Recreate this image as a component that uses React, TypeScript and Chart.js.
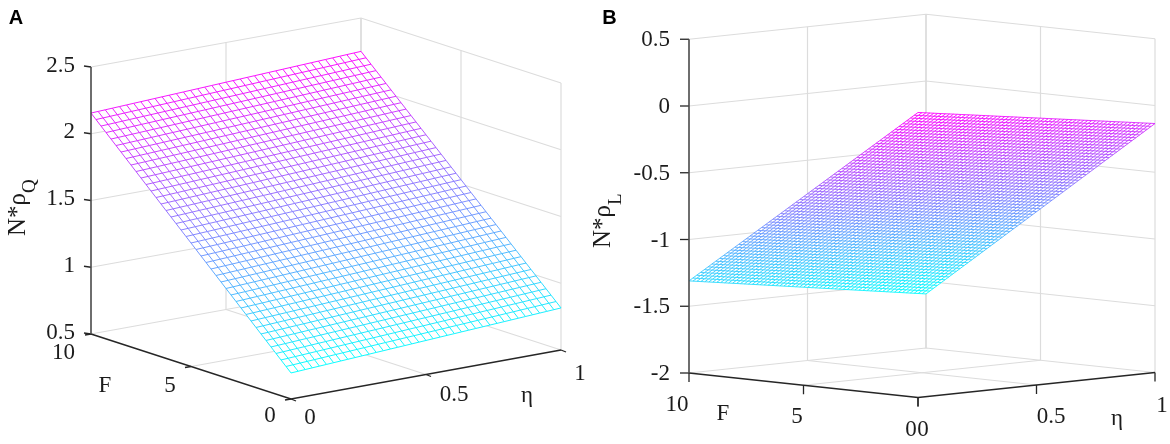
import React, { useEffect, useRef } from "react";
import { Chart, registerables } from "chart.js";

Chart.register(...registerables);

const etaTicks = [0, 0.5, 1];
const fTicks = [0, 5, 10];
const zTicksA = [0.5, 1, 1.5, 2, 2.5];
const zTicksB = [-2, -1.5, -1, -0.5, 0, 0.5];
const zLabelsA = ["0.5", "1", "1.5", "2", "2.5"];
const zLabelsB = ["-2", "-1.5", "-1", "-0.5", "0", "0.5"];

// surface heights read at the corners [eta=0, eta=1]
const surfaceA_F10 = [2.155, 2.25];
const surfaceA_F0 = [0.695, 0.815];
const surfaceB_F10 = [-1.31, -1.595];
const surfaceB_F0 = [0.135, -0.135];

const meshA = { eta: 38, f: 40 };
const meshB = { eta: 60, f: 60 };

type Panel = {
  x0: number; y0: number; ex: number; ey: number; fx: number; fy: number; zs: number;
  zMin: number; zMax: number;
  zTicks: number[];
  f10: number[]; f0: number[];
  mesh: { eta: number; f: number };
  tickZ: number[]; tickF: number[]; tickE: number[];
  meshWidth: number;
};

const panelA: Panel = {
  x0: 91, y0: 334, ex: 270, ey: -49, fx: 200, fy: 65, zs: 133.5,
  zMin: 0.5, zMax: 2.5, zTicks: zTicksA, f10: surfaceA_F10, f0: surfaceA_F0, mesh: meshA,
  tickZ: [-7, -1], tickF: [-6, 1], tickE: [5, 2], meshWidth: 0.95,
};
const panelB: Panel = {
  x0: 689, y0: 373, ex: 237, ey: -25, fx: 229, fy: 24.5, zs: 133.5,
  zMin: -2, zMax: 0.5, zTicks: zTicksB, f10: surfaceB_F10, f0: surfaceB_F0, mesh: meshB,
  tickZ: [-9, 0], tickF: [0, 9], tickE: [0, 9], meshWidth: 0.9,
};

const proj = (p: Panel, eta: number, F: number, z: number) => ({
  x: p.x0 + eta * p.ex + ((10 - F) / 10) * p.fx,
  y: p.y0 + eta * p.ey + ((10 - F) / 10) * p.fy - (z - p.zMin) * p.zs,
});

const surfZ = (p: Panel, eta: number, F: number) => {
  const a = p.f10[0] + (p.f10[1] - p.f10[0]) * eta;
  const b = p.f0[0] + (p.f0[1] - p.f0[0]) * eta;
  return b + (a - b) * (F / 10);
};

const GRID = "#dcdcdc";
const AXIS = "#262626";

const line = (pts: { x: number; y: number }[], color: string, width: number, order: number) => ({
  data: pts,
  borderColor: color,
  borderWidth: width,
  pointRadius: 0,
  showLine: true,
  fill: false,
  order,
});

function panelDatasets(p: Panel) {
  const out: any[] = [];
  const zL = p.zMin;
  const zH = p.zMax;
  // back walls and floor grid
  p.zTicks.forEach((z) => {
    out.push(line([proj(p, 0, 10, z), proj(p, 1, 10, z), proj(p, 1, 0, z)], GRID, 1.2, 5));
  });
  out.push(line([proj(p, 0.5, 10, zL), proj(p, 0.5, 10, zH)], GRID, 1.2, 5));
  out.push(line([proj(p, 1, 10, zL), proj(p, 1, 10, zH)], "#cfcfcf", 1.3, 5));
  out.push(line([proj(p, 1, 5, zL), proj(p, 1, 5, zH)], GRID, 1.2, 5));
  out.push(line([proj(p, 1, 0, zL), proj(p, 1, 0, zH)], GRID, 1.2, 5));
  out.push(line([proj(p, 0.5, 10, zL), proj(p, 0.5, 0, zL)], GRID, 1.2, 5));
  out.push(line([proj(p, 0, 5, zL), proj(p, 1, 5, zL)], GRID, 1.2, 5));

  // white face hiding what lies behind the mesh
  const corner = (e: number, f: number) => proj(p, e, f, surfZ(p, e, f));
  out.push({
    data: [corner(0, 10), corner(1, 10), corner(1, 0), corner(0, 0), corner(0, 10)],
    borderWidth: 0,
    borderColor: "#fff",
    backgroundColor: "#fff",
    pointRadius: 0,
    showLine: true,
    fill: "shape",
    order: 4,
  });

  // mesh
  const zs = [p.f10[0], p.f10[1], p.f0[0], p.f0[1]];
  const lo = Math.min(...zs);
  const hi = Math.max(...zs);
  const cool = (z: number) => {
    const t = (z - lo) / (hi - lo);
    return `rgb(${Math.round(255 * t)},${Math.round(255 * (1 - t))},255)`;
  };
  const addMesh = (pts: any[]) => {
    out.push({
      data: pts,
      borderWidth: p.meshWidth,
      borderColor: "#88f",
      pointRadius: 0,
      showLine: true,
      fill: false,
      order: 3,
      segment: { borderColor: (c: any) => cool(pts[c.p0DataIndex].z) },
    });
  };
  for (let i = 0; i <= p.mesh.eta; i++) {
    const e = i / p.mesh.eta;
    const pts: any[] = [];
    for (let j = 0; j <= p.mesh.f; j++) {
      const F = (10 * j) / p.mesh.f;
      const z = surfZ(p, e, F);
      pts.push({ ...proj(p, e, F, z), z });
    }
    addMesh(pts);
  }
  for (let j = 0; j <= p.mesh.f; j++) {
    const F = (10 * j) / p.mesh.f;
    const pts: any[] = [];
    for (let i = 0; i <= p.mesh.eta; i++) {
      const e = i / p.mesh.eta;
      const z = surfZ(p, e, F);
      pts.push({ ...proj(p, e, F, z), z });
    }
    addMesh(pts);
  }

  // axes + ticks
  out.push(line([proj(p, 0, 10, zL), proj(p, 0, 10, zH)], "#4a4a4a", 1.6, 1));
  out.push(line([proj(p, 0, 10, zL), proj(p, 0, 0, zL), proj(p, 1, 0, zL)], AXIS, 1.6, 1));
  p.zTicks.forEach((z) => {
    const a = proj(p, 0, 10, z);
    out.push(line([a, { x: a.x + p.tickZ[0], y: a.y + p.tickZ[1] }], AXIS, 1.3, 1));
  });
  fTicks.forEach((f) => {
    const a = proj(p, 0, f, zL);
    out.push(line([a, { x: a.x + p.tickF[0], y: a.y + p.tickF[1] }], AXIS, 1.3, 1));
  });
  etaTicks.forEach((e) => {
    const a = proj(p, e, 0, zL);
    out.push(line([a, { x: a.x + p.tickE[0], y: a.y + p.tickE[1] }], AXIS, 1.3, 1));
  });
  return out;
}

const SERIF = '"Liberation Serif", serif';
const INK = "#1c1c1c";

const textPlugin = {
  id: "labels3d",
  afterDatasetsDraw(chart: any) {
    const ctx = chart.ctx as CanvasRenderingContext2D;
    const t = (s: string, x: number, y: number, align: CanvasTextAlign = "center", size = 23) => {
      ctx.font = `${size}px ${SERIF}`;
      ctx.textAlign = align;
      ctx.textBaseline = "middle";
      ctx.fillStyle = INK;
      ctx.fillText(s, x, y);
    };
    ctx.save();
    ctx.font = 'bold 20px "Liberation Sans", sans-serif';
    ctx.fillStyle = "#000";
    ctx.textAlign = "center";
    ctx.textBaseline = "middle";
    ctx.fillText("A", 16, 18);
    ctx.fillText("B", 609.5, 18);

    zTicksA.forEach((z, i) => {
      const a = proj(panelA, 0, 10, z);
      t(zLabelsA[i], 75, a.y - 1.5, "right");
    });
    t("10", 75, 353, "right");
    t("5", 170, 386);
    t("0", 270, 416);
    t("F", 105, 386);
    t("0", 310, 418);
    t("0.5", 454, 395);
    t("1", 580, 374);
    t("\u03B7", 527, 396);

    zTicksB.forEach((z, i) => {
      const a = proj(panelB, 0, 10, z);
      t(zLabelsB[i], 670, a.y + 1, "right");
    });
    t("10", 677, 405);
    t("5", 797, 417);
    t("F", 723, 414);
    t("0", 911, 430);
    t("0", 923, 430);
    t("0.5", 1051, 417);
    t("\u03B7", 1117, 419);
    t("1", 1162, 406);

    const ylabel = (x: number, y: number, sub: string, drop: number) => {
      ctx.save();
      ctx.translate(x, y);
      ctx.rotate(-Math.PI / 2);
      ctx.font = `25px ${SERIF}`;
      ctx.textAlign = "left";
      ctx.textBaseline = "alphabetic";
      ctx.fillStyle = INK;
      const base = "N*\u03C1";
      ctx.fillText(base, 0, 0);
      const w = ctx.measureText(base).width;
      ctx.font = `19px ${SERIF}`;
      ctx.fillText(sub, w, drop);
      ctx.restore();
    };
    ylabel(25, 236, "Q", 10);
    ylabel(610, 248, "L", 11);
    ctx.restore();
  },
};

const xValues = [0, 1170];
const yValues = [444, 0];

export default function App() {
  const ref = useRef<HTMLCanvasElement>(null);
  useEffect(() => {
    document.body.style.margin = "0";
    document.body.style.background = "#fff";
    const chart = new Chart(ref.current as HTMLCanvasElement, {
      type: "scatter",
      data: { datasets: [...panelDatasets(panelA), ...panelDatasets(panelB)] as any },
      options: {
        animation: false,
        responsive: false,
        devicePixelRatio: 1,
        layout: { padding: 0 },
        events: [],
        plugins: { legend: { display: false }, tooltip: { enabled: false } },
        scales: {
          x: { type: "linear", min: xValues[0], max: xValues[1], display: false },
          y: { type: "linear", min: yValues[1], max: yValues[0], reverse: true, display: false },
        },
      } as any,
      plugins: [textPlugin],
    });
    return () => chart.destroy();
  }, []);
  return <canvas ref={ref} width={1170} height={444} style={{ display: "block" }} />;
}
